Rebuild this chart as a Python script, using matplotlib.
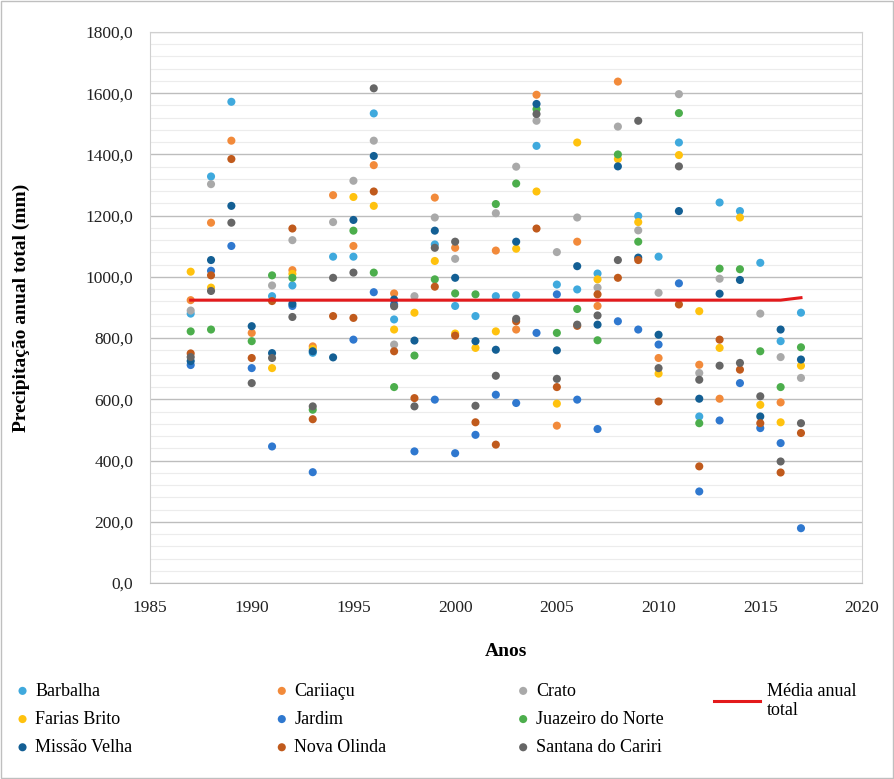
import numpy as np
import matplotlib
matplotlib.use("Agg")
import matplotlib.pyplot as plt
from matplotlib.patches import Rectangle
from matplotlib.ticker import FuncFormatter, MultipleLocator

nan = np.nan
years = list(range(1987, 2018))

barbalha = [880, 1328, 1572, nan, 937, 972, 752, 1066, 1066, 1534, 861, nan, 1106, 905, 872, 937,
            940, 1428, 975, 959, 1011, nan, 1199, 1066, 1439, 544, 1243, 1215, 1046, 790, 883]
cariiacu = [924, 1177, 1445, 817, nan, 1022, 773, 1267, 1101, 1365, 946, nan, 1259, 1095, nan, 1086,
            828, 1595, 514, 1115, 905, 1638, nan, 735, nan, 713, 602, nan, nan, 590, nan]
crato = [890, 1303, nan, nan, 972, 1120, nan, 1179, 1314, 1445, 779, 937, 1194, 1059, nan, 1208,
         1360, 1510, 1081, 1194, 965, 1491, 1152, 948, 1597, 686, 994, nan, 880, 738, 670]
farias_brito = [1017, 965, nan, nan, 702, 1010, 765, nan, 1261, 1232, 828, 883, 1052, 815, 768, 822,
                1092, 1279, 586, 1439, 992, 1385, 1179, 684, 1398, 888, 768, 1194, 582, 525, 710]
jardim = [712, 1020, 1101, 702, 446, 905, 362, nan, 795, 950, 910, 430, 599, 424, 484, 615,
          588, 817, 943, 599, 503, 855, 828, 779, 979, 299, 531, 653, 506, 457, 179]
juazeiro = [822, 828, nan, 790, 1005, 997, 566, nan, 1151, 1014, 640, 743, 992, 946, 943, 1238,
            1305, 1548, 817, 895, 793, 1400, 1115, nan, 1535, 522, 1027, 1025, 757, 640, 770]
missao_velha = [725, 1055, 1232, 839, 751, 912, 757, 737, 1186, 1395, 926, 792, 1151, 997, 790, 762,
                1115, 1565, 760, 1035, 844, 1361, 1063, 811, 1215, 602, 945, 990, 544, 828, 730]
nova_olinda = [750, 1005, 1385, 735, 921, 1158, 535, 872, 866, 1279, 757, 604, 968, 808, 525, 452,
               855, 1158, 640, 840, 943, 997, 1055, 593, 910, 381, 795, 697, 522, 361, 490]
santana = [738, 954, 1177, 653, 735, 869, 577, 997, 1014, 1616, 904, 577, 1095, 1115, 579, 677,
           863, 1532, 667, 844, 874, 1055, 1510, 702, 1361, 664, 710, 719, 610, 397, 522]
media = [924] * 30 + [932]

series = [
    ("Barbalha", barbalha, "#3fa9dd"),
    ("Cariiaçu", cariiacu, "#f28a3a"),
    ("Crato", crato, "#a9a9a9"),
    ("Farias Brito", farias_brito, "#ffc20e"),
    ("Jardim", jardim, "#2f78cf"),
    ("Juazeiro do Norte", juazeiro, "#4cae4c"),
    ("Missão Velha", missao_velha, "#135f94"),
    ("Nova Olinda", nova_olinda, "#c05a1c"),
    ("Santana do Cariri", santana, "#666666"),
]

plt.rcParams["font.family"] = ["Liberation Serif", "DejaVu Serif"]

fig = plt.figure(figsize=(8.94, 7.79), dpi=100)
ax = fig.add_axes([150 / 894, 1 - 583 / 779, 712 / 894, 551 / 779])

handles = {}
for name, values, color in series:
    handles[name] = ax.scatter(years, values, s=34, color=color, edgecolors="none", zorder=3, label=name)
line, = ax.plot(years, media, color="#e31a1c", lw=2.2, zorder=4, label="Média anual\ntotal")

ax.set_xlim(1985, 2020)
ax.set_ylim(0, 1800)
ax.yaxis.set_major_locator(MultipleLocator(200))
ax.yaxis.set_minor_locator(MultipleLocator(40))
ax.xaxis.set_major_locator(MultipleLocator(5))
ax.yaxis.set_major_formatter(FuncFormatter(lambda v, p: f"{v:.1f}".replace(".", ",")))
ax.grid(axis="y", which="major", color="#bdbdbd", lw=1.0)
ax.grid(axis="y", which="minor", color="#ececec", lw=0.8)
ax.set_axisbelow(True)
for side in ["top", "right", "left"]:
    ax.spines[side].set_color("#d0d0d0")
ax.spines["bottom"].set_color("#bdbdbd")
ax.tick_params(axis="both", which="both", length=0, labelsize=12.5, colors="#222222")
ax.tick_params(axis="y", pad=12)
ax.tick_params(axis="x", pad=12)

ax.set_ylabel("Precipitação anual total (mm)", fontsize=14, fontweight="bold", labelpad=40)
ax.set_xlabel("Anos", fontsize=14, fontweight="bold", labelpad=20)

columns = [
    (["Barbalha", "Farias Brito", "Missão Velha"], 0.005),
    (["Cariiaçu", "Jardim", "Nova Olinda"], 0.295),
    (["Crato", "Juazeiro do Norte", "Santana do Cariri"], 0.565),
]
for names, x0 in columns:
    fig.legend([handles[n] for n in names], names, loc="upper left", bbox_to_anchor=(x0, 0.133),
               frameon=False, fontsize=13, handletextpad=0.1, labelspacing=0.62, markerscale=1.0,
               handlelength=1.2, borderaxespad=0)
fig.legend([line], ["Média anual\ntotal"], loc="upper left", bbox_to_anchor=(0.791, 0.133),
           frameon=False, fontsize=13, handlelength=2.5, handletextpad=0.4, borderaxespad=0)

fig.patches.append(Rectangle((0.001, 0.001), 0.998, 0.998, transform=fig.transFigure,
                             fill=False, edgecolor="#bfbfbf", lw=1.0))

fig.savefig("out.png", dpi=100)
